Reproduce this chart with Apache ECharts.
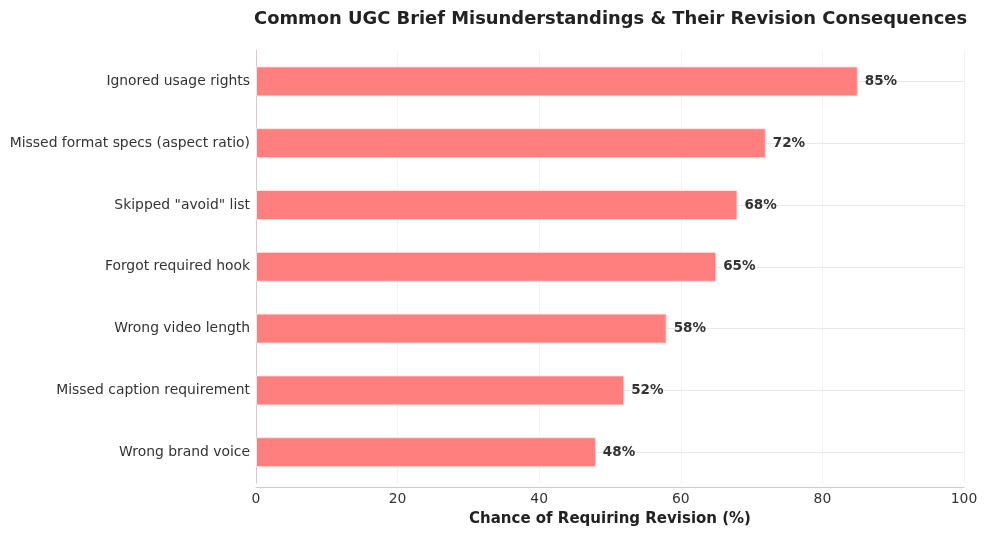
<!DOCTYPE html>
<html>
<head>
<meta charset="utf-8">
<script src="https://cdn.jsdelivr.net/npm/echarts@6/dist/echarts.min.js"></script>
<style>
  html, body { margin: 0; padding: 0; background: #fff; }
  #chart { width: 986px; height: 536px; }
</style>
</head>
<body>
<div id="chart"></div>
<script>
// 数据（从上到下）
var categories = [
    'Ignored usage rights',
    'Missed format specs (aspect ratio)',
    'Skipped "avoid" list',
    'Forgot required hook',
    'Wrong video length',
    'Missed caption requirement',
    'Wrong brand voice'
];
var revisionChance = [85, 72, 68, 65, 58, 52, 48];
var xTicks = [0, 20, 40, 60, 80, 100];

var chart = echarts.init(document.getElementById('chart'));

// 横向网格线画在每个类别中心
var centerLines = categories.map(function (c) {
    return { yAxis: c };
});

var option = {
    animation: false,
    textStyle: { fontFamily: 'DejaVu Sans' },
    title: {
        text: 'Common UGC Brief Misunderstandings & Their Revision Consequences',
        left: 249,
        top: 5,
        textStyle: { fontSize: 17.9, fontWeight: 'bold', color: '#222', fontFamily: 'DejaVu Sans' }
    },
    grid: {
        left: 256,
        right: 22,
        top: 50.5,
        height: 432.6,
        containLabel: false
    },
    xAxis: {
        type: 'value',
        min: xTicks[0],
        max: xTicks[xTicks.length - 1],
        interval: 20,
        offset: 4,
        name: 'Chance of Requiring Revision (%)',
        nameLocation: 'middle',
        nameGap: 25,
        nameTextStyle: { fontSize: 15, fontWeight: 'bold', color: '#222' },
        axisLine: { show: true, lineStyle: { color: '#d6c9cd', width: 1 } },
        axisTick: { show: false },
        axisLabel: { fontSize: 13.9, color: '#333', margin: 5 },
        splitLine: { show: true, lineStyle: { color: '#f0f0f0', width: 0.8 } }
    },
    yAxis: {
        type: 'category',
        data: categories,
        inverse: true,
        axisLine: { show: true, lineStyle: { color: '#d6c9cd', width: 1 } },
        axisTick: { show: false },
        axisLabel: { fontSize: 13.9, color: '#333', margin: 6 },
        splitLine: { show: false }
    },
    series: [
        {
            // 网格线
            type: 'line',
            data: [],
            z: 1,
            silent: true,
            markLine: {
                silent: true,
                z: 1,
                symbol: 'none',
                label: { show: false },
                lineStyle: { color: '#e2e2e2', width: 0.8, type: 'solid' },
                data: centerLines
            }
        },
        {
            type: 'bar',
            data: revisionChance,
            z: 3,
            barWidth: 30,
            itemStyle: {
                color: '#ff7f7f',
                borderColor: 'rgba(255,230,230,0.9)',
                borderWidth: 1
            },
            label: {
                show: true,
                position: 'right',
                distance: 7,
                formatter: '{c}%',
                fontSize: 13.5,
                fontWeight: 'bold',
                color: '#333'
            }
        }
    ]
};

chart.setOption(option);
</script>
</body>
</html>
